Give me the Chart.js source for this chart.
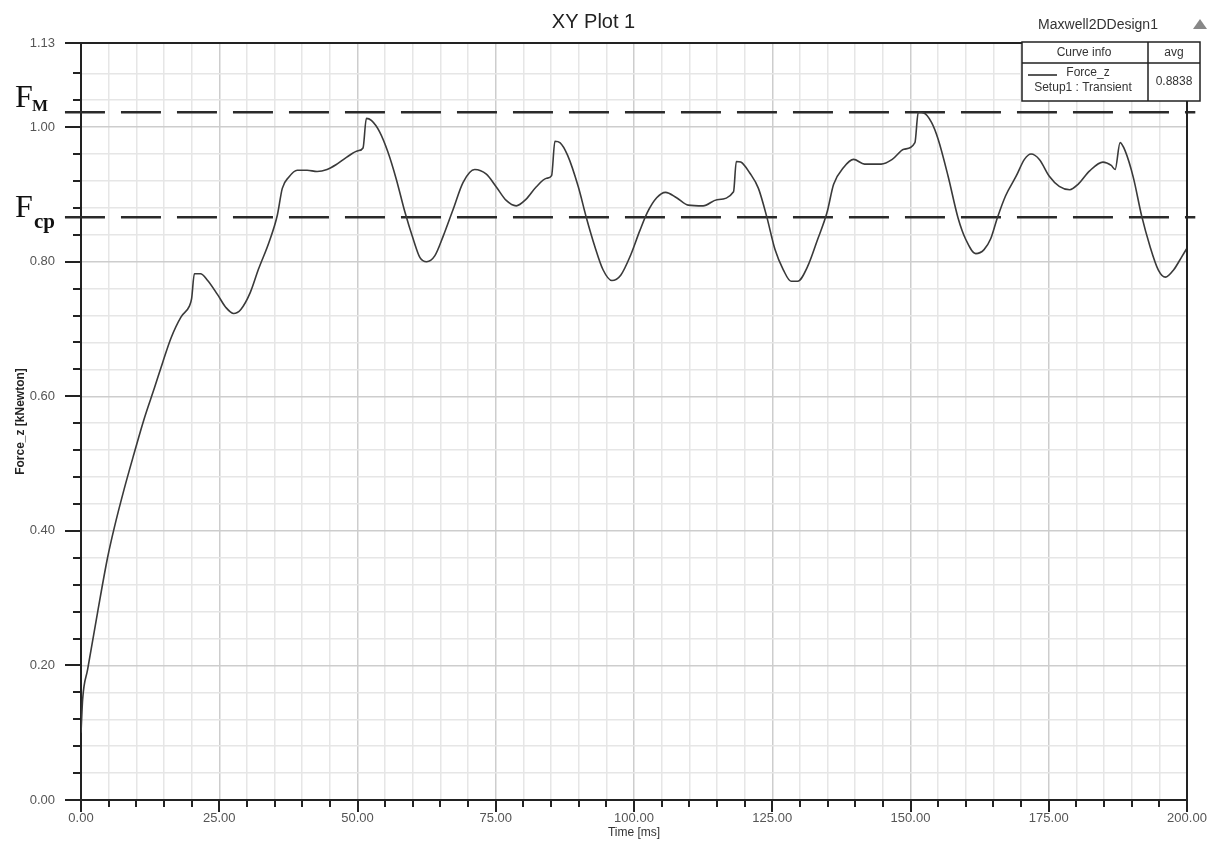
<!DOCTYPE html>
<html>
<head>
<meta charset="utf-8">
<script src="https://cdn.jsdelivr.net/npm/chart.js@4.4.0/dist/chart.umd.min.js"></script>
<style>
html, body { margin: 0; padding: 0; background: #fff; }
#wrap { width: 1220px; height: 845px; position: relative; }
</style>
</head>
<body>
<div id="wrap"><canvas id="plot"></canvas></div>
<script>
// Force_z [kNewton] vs Time [ms]
const timeMs = [0.0, 0.3, 1.2, 3.0, 4.8, 6.0, 7.8, 9.6, 11.4, 13.3, 14.8, 16.3, 18.1, 19.6, 20.0, 20.5, 21.6, 22.9, 24.7, 26.2,
    27.6, 28.9, 30.6, 32.1, 34.0, 35.5, 36.4, 37.6, 39.1, 40.9, 42.7, 44.5, 46.1, 48.0, 50.1, 51.0, 51.6, 52.5, 54.0, 55.5,
    57.0, 58.6, 60.1, 61.3, 62.5, 64.0, 65.5, 67.3, 69.1, 71.2, 73.3, 75.1, 76.9, 78.7, 80.5, 82.3, 84.2, 85.1, 85.7, 86.6,
    88.0, 89.9, 91.4, 92.9, 94.4, 96.0, 97.6, 99.4, 101.0, 102.4, 104.1, 105.7, 107.7, 109.8, 112.5, 115.0, 118.0, 118.5, 119.3, 121.0,
    122.5, 124.0, 125.5, 127.0, 128.4, 129.6, 131.4, 133.2, 134.9, 136.1, 137.9, 139.7, 141.7, 144.7, 146.7, 148.8, 150.8, 151.4, 152.4, 153.8,
    155.0, 156.8, 158.6, 160.0, 161.8, 163.3, 164.5, 165.7, 167.2, 169.1, 170.6, 171.8, 173.3, 175.1, 176.9, 178.8, 180.3, 182.4, 184.8, 186.3,
    187.0, 187.9, 188.8, 190.3, 191.8, 193.3, 194.8, 196.1, 197.6, 199.1, 200.0];
const forceZ = [0.100, 0.150, 0.194, 0.279, 0.360, 0.404, 0.462, 0.515, 0.566, 0.613, 0.651, 0.687, 0.718, 0.734, 0.745, 0.782, 0.782, 0.772, 0.751, 0.732,
    0.723, 0.729, 0.754, 0.789, 0.829, 0.869, 0.909, 0.926, 0.936, 0.936, 0.934, 0.937, 0.944, 0.955, 0.965, 0.969, 1.013, 1.010, 0.993, 0.963,
    0.923, 0.873, 0.833, 0.806, 0.800, 0.809, 0.838, 0.878, 0.918, 0.937, 0.930, 0.911, 0.891, 0.883, 0.893, 0.911, 0.924, 0.928, 0.979, 0.977,
    0.958, 0.912, 0.865, 0.823, 0.788, 0.772, 0.780, 0.810, 0.845, 0.873, 0.895, 0.903, 0.895, 0.884, 0.883, 0.892, 0.904, 0.949, 0.948, 0.931,
    0.909, 0.867, 0.818, 0.788, 0.771, 0.771, 0.793, 0.833, 0.873, 0.915, 0.940, 0.952, 0.945, 0.945, 0.952, 0.967, 0.977, 1.022, 1.021, 1.007,
    0.982, 0.927, 0.865, 0.833, 0.812, 0.818, 0.834, 0.865, 0.898, 0.927, 0.952, 0.960, 0.952, 0.927, 0.912, 0.907, 0.915, 0.935, 0.948, 0.943,
    0.937, 0.977, 0.965, 0.925, 0.868, 0.823, 0.788, 0.777, 0.788, 0.808, 0.820];

const xMajor = [0, 25, 50, 75, 100, 125, 150, 175, 200];
const yMajor = [0, 0.2, 0.4, 0.6, 0.8, 1.0, 1.125];
const fM = 1.022;   // F_M
const fCp = 0.866;  // F_cp
const refLineX = [-2.9, 201.5];

const isMajor = (list, v) => list.some(m => Math.abs(m - v) < 1e-6);

Chart.defaults.font.family = "'Liberation Sans', Arial, sans-serif";

// ticks, frame, F labels and the curve info box
const decor = {
    id: 'decor',
    afterDraw(chart) {
        const c = chart.ctx;
        const a = chart.chartArea;
        const xs = chart.scales.x, ys = chart.scales.y;
        c.save();
        c.strokeStyle = '#222';
        c.lineWidth = 2;
        c.beginPath();
        ys.ticks.forEach(t => {
            const py = Math.round(ys.getPixelForValue(t.value));
            const len = isMajor(yMajor, t.value) ? 16 : 8;
            c.moveTo(a.left - len, py); c.lineTo(a.left, py);
        });
        xs.ticks.forEach(t => {
            const px = Math.round(xs.getPixelForValue(t.value));
            const len = isMajor(xMajor, t.value) ? 12 : 7;
            c.moveTo(px, a.bottom); c.lineTo(px, a.bottom + len);
        });
        c.moveTo(a.left, a.top); c.lineTo(a.right, a.top); c.lineTo(a.right, a.bottom);
        c.stroke();

        // F_M and F_cp
        c.fillStyle = '#111';
        c.textBaseline = 'alphabetic';
        c.textAlign = 'left';
        const yM = ys.getPixelForValue(fM), yC = ys.getPixelForValue(fCp);
        c.font = "32px 'Liberation Serif', 'DejaVu Serif', serif";
        c.fillText('F', 15, yM - 5);
        c.fillText('F', 15, yC);
        c.font = "bold 17px 'Liberation Serif', 'DejaVu Serif', serif";
        c.fillText('M', 32, yM - 1);
        c.font = "bold 21px 'Liberation Serif', 'DejaVu Serif', serif";
        c.fillText('cp', 34, yC + 11);

        // design name and triangle
        c.font = "14px 'Liberation Sans', Arial, sans-serif";
        c.fillStyle = '#333';
        c.textAlign = 'center';
        c.textBaseline = 'middle';
        c.fillText('Maxwell2DDesign1', 1098, 25);
        c.fillStyle = '#888';
        c.beginPath();
        c.moveTo(1200, 19); c.lineTo(1207, 29); c.lineTo(1193, 29); c.closePath();
        c.fill();

        // curve info box
        c.fillStyle = '#fff';
        c.fillRect(1022, 42, 178, 59);
        c.strokeStyle = '#222';
        c.lineWidth = 1.5;
        c.strokeRect(1022, 42, 178, 59);
        c.beginPath();
        c.moveTo(1022, 63); c.lineTo(1200, 63);
        c.moveTo(1148, 42); c.lineTo(1148, 101);
        c.moveTo(1028, 75); c.lineTo(1057, 75);
        c.stroke();
        c.fillStyle = '#333';
        c.font = "12px 'Liberation Sans', Arial, sans-serif";
        c.fillText('Curve info', 1084, 53);
        c.fillText('avg', 1174, 53);
        c.fillText('Force_z', 1088, 73);
        c.fillText('Setup1 : Transient', 1083, 88);
        c.fillText('0.8838', 1174, 82);
        c.restore();
    }
};

new Chart(document.getElementById('plot'), {
    type: 'line',
    data: {
        datasets: [
            {
                label: 'Force_z',
                data: timeMs.map((t, i) => ({ x: t, y: forceZ[i] })),
                borderColor: '#3a3a3a',
                borderWidth: 1.6,
                pointRadius: 0,
                cubicInterpolationMode: 'monotone',
            },
            {
                label: 'F_M',
                data: refLineX.map(t => ({ x: t, y: fM })),
                borderColor: '#2a2a2a',
                borderWidth: 2.5,
                borderDash: [40, 16],
                pointRadius: 0,
                clip: false,
            },
            {
                label: 'F_cp',
                data: refLineX.map(t => ({ x: t, y: fCp })),
                borderColor: '#2a2a2a',
                borderWidth: 2.5,
                borderDash: [40, 16],
                pointRadius: 0,
                clip: false,
            }
        ]
    },
    options: {
        responsive: true,
        maintainAspectRatio: false,
        animation: false,
        layout: { padding: { top: 0, left: 0, right: 33, bottom: 0 } },
        plugins: {
            legend: { display: false },
            tooltip: { enabled: false },
            title: {
                display: true,
                text: 'XY Plot 1',
                color: '#222',
                font: { size: 20, weight: 'normal' },
                padding: { top: 10, bottom: 9 }
            }
        },
        scales: {
            x: {
                type: 'linear',
                min: 0,
                max: 200,
                afterFit: s => { s.height = 45; s.paddingLeft = 0; s.paddingRight = 0; },
                ticks: {
                    stepSize: 5,
                    autoSkip: false,
                    maxRotation: 0,
                    padding: 11,
                    color: '#555',
                    font: { size: 13 },
                    callback: v => isMajor(xMajor, v) ? v.toFixed(2) : ''
                },
                grid: {
                    drawTicks: false,
                    lineWidth: 1.5,
                    color: c => isMajor(xMajor, c.tick.value) ? '#cdcdcd' : '#e6e6e6'
                },
                border: { color: '#222', width: 2 },
                title: {
                    display: true,
                    text: 'Time [ms]',
                    color: '#333',
                    font: { size: 12 },
                    padding: { top: 0, bottom: 5 }
                }
            },
            y: {
                min: 0,
                max: 1.125,
                afterFit: s => { s.width = 81; s.paddingTop = 0; s.paddingBottom = 0; },
                afterBuildTicks: s => {
                    s.ticks = s.ticks.filter(t => t.value < 1.1);
                    s.ticks.push({ value: 1.125 });
                },
                ticks: {
                    stepSize: 0.04,
                    autoSkip: false,
                    padding: 26,
                    color: '#555',
                    font: { size: 13 },
                    callback: v => isMajor(yMajor, v) ? v.toFixed(2) : ''
                },
                grid: {
                    drawTicks: false,
                    lineWidth: 1.5,
                    color: c => isMajor(yMajor, c.tick.value) ? '#cdcdcd' : '#e6e6e6'
                },
                border: { color: '#222', width: 2 },
                title: {
                    display: true,
                    text: 'Force_z [kNewton]',
                    color: '#222',
                    font: { size: 12, weight: 'bold' },
                    padding: { top: 13, bottom: 0 }
                }
            }
        }
    },
    plugins: [decor]
});
</script>
</body>
</html>
